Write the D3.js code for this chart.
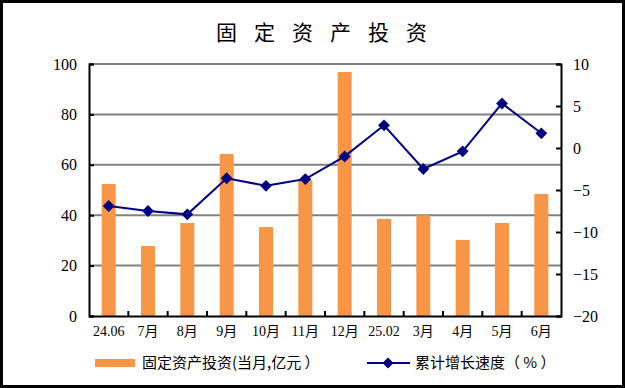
<!doctype html>
<html>
  <head>
    <meta charset="utf-8">
    <title>固定资产投资</title>
    <script src="https://cdnjs.cloudflare.com/ajax/libs/d3/7.8.5/d3.min.js"></script>
    <style>
      body { margin: 0; background: #fff; }
      .serif text { font-family: "Liberation Serif", "Times New Roman", Tinos, "DejaVu Serif", "Noto Sans CJK SC", serif; }
    </style>
  </head>
  <body>
    <div id="chart"></div>
    <script>
      // data
      const months = ["24.06", "7月", "8月", "9月", "10月", "11月", "12月", "25.02", "3月", "4月", "5月", "6月"];
      const investment = [52.4, 27.8, 36.9, 64.3, 35.3, 54.0, 96.8, 38.5, 40.0, 30.2, 36.9, 48.4];
      const growth = [-6.9, -7.5, -7.9, -3.6, -4.5, -3.7, -1.0, 2.7, -2.5, -0.4, 5.3, 1.75];
      const leftTicks = [0, 20, 40, 60, 80, 100];
      const rightTicks = [-20, -15, -10, -5, 0, 5, 10];

      const CJK = "Noto Sans CJK SC, sans-serif";

      const W = 625, H = 388;
      const m = { left: 89, right: 561, top: 64, bottom: 316 };

      const svg = d3.select("#chart").append("svg")
        .attr("width", W).attr("height", H);

      // frame
      svg.append("rect")
        .attr("x", 1.5).attr("y", 1.5)
        .attr("width", W - 3).attr("height", H - 3)
        .attr("fill", "none").attr("stroke", "#000").attr("stroke-width", 3);

      // title (trailing letter-spacing pushes centre left, so nudge right)
      svg.append("text")
        .attr("x", 322 + 8).attr("y", 40)
        .attr("text-anchor", "middle")
        .attr("font-family", CJK)
        .attr("font-size", 21)
        .style("letter-spacing", "17px")
        .text("固定资产投资");

      const x = d3.scaleBand().domain(months).range([m.left, m.right]);
      const yL = d3.scaleLinear().domain([0, 100]).range([m.bottom, m.top]);
      const yR = d3.scaleLinear().domain([-20, 10]).range([m.bottom, m.top]);

      // gridlines
      svg.append("g").selectAll("line")
        .data(leftTicks.filter(d => d > 0))
        .join("line")
        .attr("x1", m.left).attr("x2", m.right)
        .attr("y1", d => yL(d)).attr("y2", d => yL(d))
        .attr("stroke", "#808080").attr("stroke-width", 2);

      // bars
      const bw = 14;
      svg.append("g").selectAll("rect")
        .data(investment)
        .join("rect")
        .attr("x", (d, i) => x(months[i]) + x.bandwidth() / 2 - bw / 2)
        .attr("y", d => yL(d))
        .attr("width", bw)
        .attr("height", d => yL(0) - yL(d))
        .attr("fill", "#F79646");

      // axes
      const axL = svg.append("g").attr("class", "serif")
        .attr("transform", `translate(${m.left},0)`)
        .call(d3.axisLeft(yL).tickValues(leftTicks).tickSize(-5).tickPadding(12));
      const axR = svg.append("g").attr("class", "serif")
        .attr("transform", `translate(${m.right},0)`)
        .call(d3.axisRight(yR).tickValues(rightTicks).tickSize(-5).tickPadding(12));
      const axB = svg.append("g").attr("class", "serif")
        .attr("transform", `translate(0,${m.bottom})`)
        .call(d3.axisBottom(x).tickSize(0).tickPadding(10));

      [axL, axR, axB].forEach(g => {
        g.select(".domain").attr("stroke", "#000").attr("stroke-width", 2);
        g.selectAll(".tick line").attr("stroke", "#000").attr("stroke-width", 2);
        g.selectAll("text").attr("fill", "#000");
      });
      axL.attr("font-size", 16);
      axR.attr("font-size", 16);
      axB.attr("font-size", 14);

      // category boundary ticks on the x axis
      svg.append("g").selectAll("line")
        .data(months.slice(1))
        .join("line")
        .attr("x1", d => x(d)).attr("x2", d => x(d))
        .attr("y1", m.bottom).attr("y2", m.bottom - 5)
        .attr("stroke", "#000").attr("stroke-width", 2);

      // growth line
      const cx = i => x(months[i]) + x.bandwidth() / 2;
      const line = d3.line()
        .x((d, i) => cx(i))
        .y(d => yR(d));
      svg.append("path")
        .datum(growth)
        .attr("d", line)
        .attr("fill", "none")
        .attr("stroke", "#000080")
        .attr("stroke-width", 2);

      svg.append("g").selectAll("path")
        .data(growth)
        .join("path")
        .attr("d", d3.symbol().type(d3.symbolSquare).size(70))
        .attr("transform", (d, i) => `translate(${cx(i)},${yR(d)}) rotate(45)`)
        .attr("fill", "#000080");

      // legend
      const lg = svg.append("g").attr("font-family", CJK).attr("font-size", 15).attr("fill", "#000");
      lg.append("rect")
        .attr("x", 95).attr("y", 359).attr("width", 40).attr("height", 8)
        .attr("fill", "#F79646");
      lg.append("text")
        .attr("x", 142).attr("y", 368)
        .text("固定资产投资(当月,亿元 ）");
      lg.append("line")
        .attr("x1", 367).attr("x2", 410).attr("y1", 363).attr("y2", 363)
        .attr("stroke", "#000080").attr("stroke-width", 2);
      lg.append("path")
        .attr("d", d3.symbol().type(d3.symbolSquare).size(60))
        .attr("transform", "translate(388,363) rotate(45)")
        .attr("fill", "#000080");
      lg.append("text")
        .attr("x", 415).attr("y", 368)
        .text("累计增长速度（ % ）");
    </script>
  </body>
</html>
